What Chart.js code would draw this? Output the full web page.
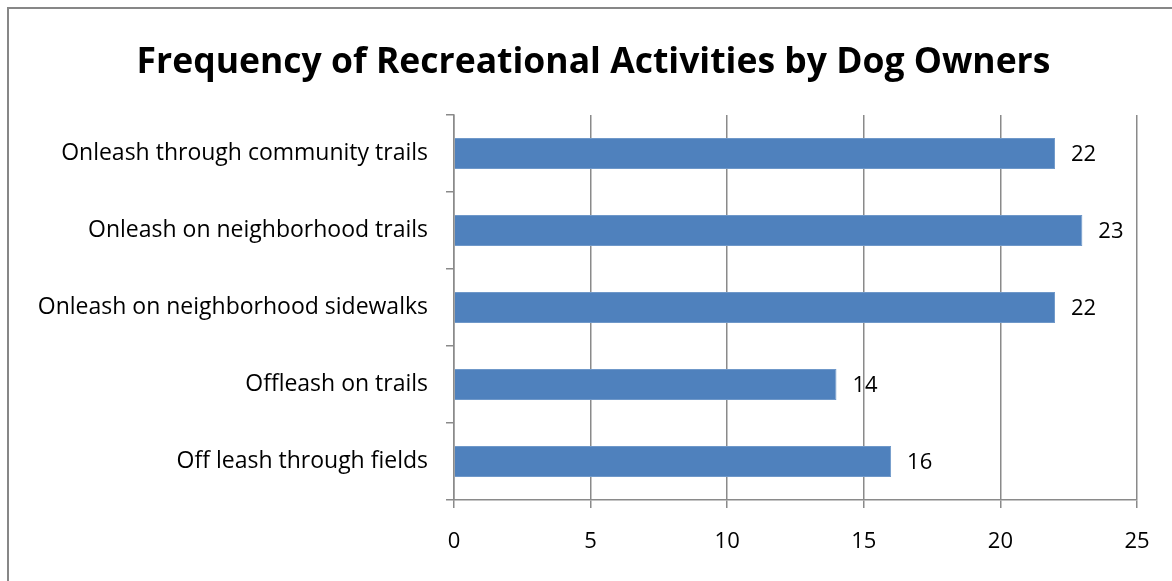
<!DOCTYPE html>
<html>
<head>
<meta charset="utf-8">
<script src="https://cdn.jsdelivr.net/npm/chart.js@4.4.1/dist/chart.umd.min.js"></script>
<style>
  html, body { margin: 0; padding: 0; background: #fff; overflow: hidden; }
  #wrap { position: relative; width: 1172px; height: 581px; }
  #frame { position: absolute; left: 7px; top: 7px; width: 1170px; height: 600px;
           border: 2px solid #878787; box-sizing: border-box; pointer-events: none; }
</style>
</head>
<body>
<div id="wrap">
  <canvas id="chart" width="1172" height="581"></canvas>
  <div id="frame"></div>
</div>
<script>
// chart data
const categories = [
    'Onleash through community trails',
    'Onleash on neighborhood trails',
    'Onleash on neighborhood sidewalks',
    'Offleash on trails',
    'Off leash through fields'
];
const counts = [22, 23, 22, 14, 16];
const xTicks = [0, 5, 10, 15, 20, 25];

const FONT = '"Open Sans", sans-serif';

// value labels next to each bar
const barLabels = {
    id: 'barLabels',
    afterDatasetsDraw(chart) {
        const ctx = chart.ctx;
        const meta = chart.getDatasetMeta(0);
        ctx.save();
        ctx.font = '22px ' + FONT;
        ctx.fillStyle = '#000';
        ctx.textAlign = 'left';
        ctx.textBaseline = 'middle';
        meta.data.forEach((bar, i) => {
            ctx.fillText(String(counts[i]), bar.x + 16, bar.y + 1);
        });
        ctx.restore();
    }
};

// title is centred on the frame, not on the plot
const shiftTitle = {
    id: 'shiftTitle',
    afterLayout(chart) {
        if (chart.titleBlock) chart.titleBlock.left = 50;
    }
};

new Chart(document.getElementById('chart').getContext('2d'), {
    type: 'bar',
    data: {
        labels: categories,
        datasets: [{
            data: counts,
            backgroundColor: '#4F81BD',
            borderColor: '#6f98c9',
            borderWidth: 1,
            barPercentage: 0.4,
            categoryPercentage: 1.0
        }]
    },
    options: {
        indexAxis: 'y',
        responsive: false,
        animation: false,
        layout: { padding: { left: 0, right: 35, top: 0, bottom: 0 } },
        plugins: {
            legend: { display: false },
            tooltip: { enabled: false },
            title: {
                display: true,
                text: 'Frequency of Recreational Activities by Dog Owners',
                color: '#000',
                font: { family: FONT, size: 35.5, weight: 'bold' },
                padding: { top: 42, bottom: 30.4 }
            }
        },
        scales: {
            x: {
                min: 0,
                max: 25,
                afterBuildTicks(axis) {
                    axis.ticks = xTicks.map(v => ({ value: v }));
                },
                afterFit(axis) { axis.height = 81; },
                grid: {
                    color: '#8a8a8a',
                    lineWidth: 1.5,
                    tickLength: 8,
                    drawTicks: true
                },
                border: { color: '#8a8a8a', width: 1.5 },
                ticks: {
                    color: '#000',
                    padding: 21,
                    font: { family: FONT, size: 22 }
                }
            },
            y: {
                afterFit(axis) { axis.width = 454; },
                grid: {
                    drawOnChartArea: false,
                    color: '#8a8a8a',
                    lineWidth: 1.5,
                    tickLength: 8,
                    offset: true
                },
                border: { color: '#8a8a8a', width: 1.5 },
                ticks: {
                    color: '#000',
                    padding: 18,
                    font: { family: FONT, size: 23 }
                }
            }
        }
    },
    plugins: [barLabels, shiftTitle]
});
</script>
</body>
</html>
